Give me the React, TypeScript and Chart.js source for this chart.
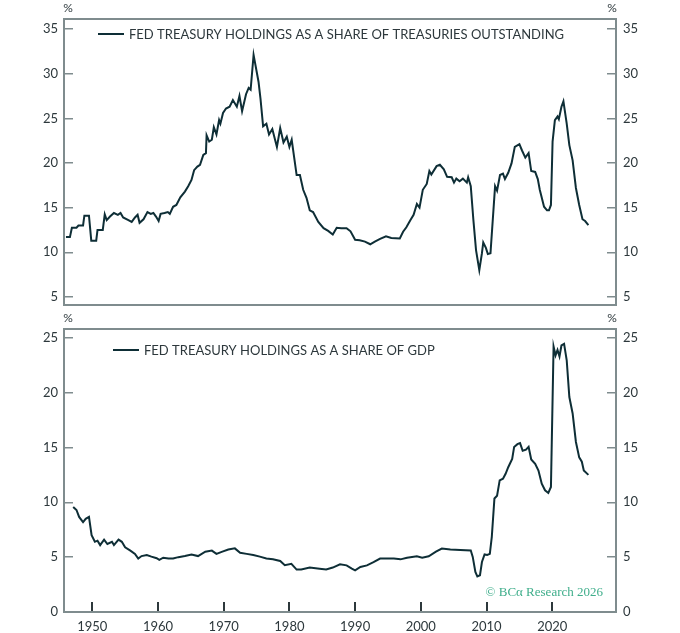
import { useEffect, useRef } from "react";
import { Chart, registerables } from "chart.js";

Chart.register(...registerables);

// Fed holdings as % of treasuries outstanding
const shareYears = [
  1946.0, 1946.6, 1946.9, 1947.6, 1947.9, 1948.6, 1948.8, 1949.5, 1949.85, 1950.6,
  1950.8, 1951.6, 1951.9, 1952.2, 1952.7, 1953.3, 1953.9, 1954.3, 1954.7, 1955.5,
  1956.0, 1956.5, 1956.9, 1957.2, 1957.8, 1958.4, 1958.9, 1959.3, 1959.7, 1960.1,
  1960.4, 1961.0, 1961.5, 1961.8, 1962.3, 1962.8, 1963.4, 1964.1, 1964.6, 1965.1,
  1965.5, 1966.0, 1966.4, 1966.9, 1967.3, 1967.4, 1967.8, 1968.2, 1968.5, 1968.9,
  1969.3, 1969.5, 1969.9, 1970.35, 1970.9, 1971.4, 1972.0, 1972.4, 1972.8, 1973.4,
  1973.8, 1974.1, 1974.55, 1975.3, 1975.6, 1976.0, 1976.5, 1976.9, 1977.4, 1978.1,
  1978.6, 1979.1, 1979.6, 1980.0, 1980.35, 1981.1, 1981.6, 1982.1, 1982.6, 1983.1,
  1983.6, 1984.4, 1985.2, 1985.9, 1986.6, 1987.2, 1987.9, 1988.7, 1989.3, 1990.0,
  1990.7, 1991.5, 1992.3, 1993.0, 1993.8, 1994.7, 1995.5, 1996.8, 1997.3, 1997.8,
  1998.4, 1998.9, 1999.4, 1999.8, 2000.3, 2000.9, 2001.3, 2001.6, 2002.4, 2002.9,
  2003.5, 2004.0, 2004.7, 2005.05, 2005.4, 2005.9, 2006.4, 2007.0, 2007.2, 2007.6,
  2008.0, 2008.4, 2008.9, 2009.3, 2009.5, 2009.9, 2010.2, 2010.6, 2011.3, 2011.6,
  2012.05, 2012.5, 2012.8, 2013.3, 2013.8, 2014.3, 2015.0, 2015.4, 2015.9, 2016.4,
  2016.8, 2017.4, 2017.8, 2018.1, 2018.75, 2019.2, 2019.5, 2019.8, 2020.05, 2020.4,
  2020.8, 2021.0, 2021.4, 2021.7, 2022.2, 2022.6, 2023.1, 2023.6, 2024.1, 2024.6,
  2025.0, 2025.5,
];
const shareValues = [
  11.7, 11.7, 12.75, 12.75, 13.0, 13.0, 14.1, 14.1, 11.3, 11.3,
  12.5, 12.5, 14.25, 13.6, 14.0, 14.4, 14.2, 14.4, 13.9, 13.6,
  13.4, 13.9, 14.2, 13.3, 13.7, 14.5, 14.3, 14.4, 14.0, 13.5,
  14.3, 14.4, 14.5, 14.3, 15.1, 15.3, 16.15, 16.8, 17.4, 18.1,
  19.2, 19.6, 19.8, 20.9, 21.1, 23.1, 22.4, 22.6, 24.0, 23.2,
  24.8, 24.4, 25.6, 26.1, 26.3, 27.05, 26.3, 27.5, 25.8, 27.7,
  28.4, 28.2, 32.1, 29.1, 27.2, 24.1, 24.4, 23.2, 23.8, 21.8,
  23.9, 22.3, 22.95, 21.8, 22.6, 18.65, 18.65, 17.0, 16.1, 14.7,
  14.5, 13.4, 12.7, 12.4, 12.0, 12.75, 12.7, 12.7, 12.35, 11.4,
  11.35, 11.2, 10.9, 11.2, 11.5, 11.8, 11.6, 11.55, 12.3, 12.8,
  13.6, 14.2, 15.4, 15.0, 17.0, 17.65, 19.1, 18.7, 19.65, 19.8,
  19.3, 18.45, 18.4, 17.8, 18.25, 17.95, 18.25, 17.8, 18.4, 17.4,
  13.6, 10.25, 8.0, 9.9, 11.1, 10.5, 9.8, 9.9, 17.4, 16.9,
  18.65, 18.8, 18.2, 18.9, 19.95, 21.8, 22.1, 21.4, 20.6, 21.1,
  19.1, 19.0, 18.2, 17.0, 15.1, 14.7, 14.7, 15.3, 22.4, 24.8,
  25.2, 24.9, 26.3, 26.9, 24.4, 22.0, 20.3, 17.2, 15.3, 13.7,
  13.5, 13.05,
];

// Fed holdings as % of GDP
const gdpYears = [
  1947.1, 1947.6, 1948.0, 1948.6, 1949.0, 1949.5, 1949.9, 1950.4, 1950.8, 1951.2,
  1951.8, 1952.3, 1953.0, 1953.3, 1954.0, 1954.5, 1955.0, 1955.8, 1956.5, 1957.0,
  1957.5, 1958.3, 1959.0, 1959.8, 1960.2, 1960.8, 1961.6, 1962.3, 1963.1, 1964.1,
  1965.1, 1966.1, 1967.2, 1968.2, 1968.9, 1969.8, 1970.7, 1971.7, 1972.5, 1973.5,
  1974.5, 1975.5, 1976.5, 1977.5, 1978.6, 1979.3, 1980.3, 1981.1, 1981.8, 1983.1,
  1984.6, 1985.6, 1986.6, 1987.7, 1988.7, 1989.5, 1990.0, 1990.8, 1991.8, 1992.8,
  1993.8, 1994.9, 1995.9, 1996.9, 1997.9, 1999.4, 2000.2, 2001.2, 2002.3, 2003.2,
  2004.5, 2006.0, 2007.6, 2007.9, 2008.3, 2008.6, 2009.0, 2009.3, 2009.7, 2010.1,
  2010.5, 2010.8, 2011.2, 2011.6, 2012.0, 2012.5, 2012.9, 2013.3, 2013.9, 2014.2,
  2014.7, 2015.1, 2015.5, 2016.0, 2016.4, 2016.8, 2017.4, 2017.9, 2018.4, 2018.9,
  2019.4, 2019.8, 2020.2, 2020.5, 2020.8, 2021.1, 2021.4, 2021.8, 2022.2, 2022.6,
  2023.1, 2023.6, 2024.1, 2024.5, 2024.8, 2025.5,
];
const gdpValues = [
  9.58, 9.3, 8.67, 8.2, 8.5, 8.67, 7.0, 6.4, 6.5, 6.1,
  6.6, 6.2, 6.4, 6.1, 6.6, 6.4, 5.9, 5.6, 5.3, 4.87,
  5.1, 5.2, 5.05, 4.9, 4.75, 4.95, 4.87, 4.87, 5.0, 5.1,
  5.25, 5.1, 5.5, 5.6, 5.3, 5.5, 5.7, 5.8, 5.4, 5.3,
  5.2, 5.05, 4.87, 4.8, 4.65, 4.26, 4.4, 3.87, 3.87, 4.05,
  3.95, 3.87, 4.05, 4.35, 4.25, 3.95, 3.8, 4.1, 4.25, 4.55,
  4.87, 4.87, 4.87, 4.8, 4.95, 5.08, 4.95, 5.08, 5.5, 5.78,
  5.7, 5.65, 5.6, 5.02, 3.65, 3.25, 3.35, 4.56, 5.25, 5.2,
  5.3, 6.85, 10.35, 10.6, 12.0, 12.15, 12.6, 13.2, 13.95, 15.05,
  15.3, 15.4, 14.7, 14.8, 15.05, 13.9, 13.5, 12.9, 11.7, 11.1,
  10.85, 11.4, 24.2, 23.4, 23.9, 23.3, 24.3, 24.45, 22.95, 19.6,
  18.1, 15.5, 14.1, 13.7, 12.9, 12.5,
];

const shareTicks = [5, 10, 15, 20, 25, 30, 35];
const gdpTicks = [0, 5, 10, 15, 20, 25];
const decadeTicks = [1950, 1960, 1970, 1980, 1990, 2000, 2010, 2020];

const LINE = "#0e2e36";
const FRAME = "#7f8c8e";
const TEXT = "#2d383c";
const FONT = "Lato, 'Open Sans', sans-serif";

interface PanelProps {
  years: number[];
  values: number[];
  label: string;
  yMin: number;
  yMax: number;
  yTicks: number[];
  showX: boolean;
  height: number;
  legendX: number;
  legendY: number;
  credit?: string;
}

function Panel(props: PanelProps) {
  const canvasRef = useRef<HTMLCanvasElement>(null);
  const chartRef = useRef<Chart | null>(null);

  useEffect(() => {
    if (!canvasRef.current) return;
    if (chartRef.current) chartRef.current.destroy();

    const points = props.years.map((x, i) => ({ x, y: props.values[i] }));

    const yAxis = (position: "left" | "right") => ({
      type: "linear" as const,
      position,
      min: props.yMin,
      max: props.yMax,
      afterBuildTicks: (s: any) => {
        s.ticks = props.yTicks.map((v) => ({ value: v }));
      },
      afterFit: (s: any) => {
        s.width = 64;
        // keep label overhang from pushing the plot area around
        s.paddingTop = 0;
        s.paddingBottom = 0;
      },
      border: { display: false },
      grid: {
        drawOnChartArea: false,
        tickLength: -9,
        color: FRAME,
        lineWidth: 1.5,
      },
      ticks: {
        padding: position === "left" ? 15 : 16,
        color: TEXT,
        font: { family: FONT, size: 13 },
      },
    });

    // frame, legend, % marks and credit
    const decor = {
      id: "decor",
      afterDraw(chart: Chart) {
        const { ctx, chartArea } = chart;
        const { left, right, top, bottom } = chartArea;
        ctx.save();
        ctx.strokeStyle = FRAME;
        ctx.lineWidth = 2;
        ctx.strokeRect(left, top, right - left, bottom - top);

        ctx.fillStyle = TEXT;
        ctx.font = `12px ${FONT}`;
        ctx.textAlign = "center";
        ctx.textBaseline = "middle";
        ctx.fillText("%", left + 4, top - 11);
        ctx.fillText("%", right - 4, top - 11);

        const lx = left + props.legendX;
        const ly = top + props.legendY;
        ctx.strokeStyle = LINE;
        ctx.lineWidth = 2;
        ctx.beginPath();
        ctx.moveTo(lx, ly);
        ctx.lineTo(lx + 26, ly);
        ctx.stroke();
        ctx.fillStyle = TEXT;
        ctx.font = `13px ${FONT}`;
        ctx.textAlign = "left";
        ctx.fillText(props.label, lx + 31, ly + 1);

        if (props.credit) {
          ctx.fillStyle = "#3fae8b";
          ctx.font = "13px 'Liberation Serif', 'DejaVu Serif', serif";
          ctx.textAlign = "right";
          ctx.fillText(props.credit, right - 13, bottom - 19);
        }
        ctx.restore();
      },
    };

    chartRef.current = new Chart(canvasRef.current, {
      type: "line",
      data: {
        datasets: [
          {
            label: props.label,
            data: points,
            borderColor: LINE,
            borderWidth: 2,
            pointRadius: 0,
            tension: 0,
          },
        ],
      },
      options: {
        responsive: false,
        animation: false,
        layout: { padding: { top: 19, bottom: props.showX ? 0 : 5, left: 0, right: 0 } },
        plugins: {
          legend: { display: false },
          tooltip: { enabled: false },
        },
        scales: {
          x: {
            type: "linear",
            display: props.showX,
            min: 1945.7,
            max: 2029.7,
            afterBuildTicks: (s: any) => {
              s.ticks = decadeTicks.map((v) => ({ value: v }));
            },
            afterFit: (s: any) => {
              s.height = props.showX ? 21 : 0;
              s.paddingLeft = 0;
              s.paddingRight = 0;
            },
            border: { display: false },
            grid: {
              drawOnChartArea: false,
              tickLength: -10,
              color: TEXT,
              lineWidth: 2,
            },
            ticks: {
              padding: 17,
              maxRotation: 0,
              color: TEXT,
              font: { family: FONT, size: 13 },
              callback: (v: any) => String(v),
            },
          },
          y: yAxis("left"),
          y2: yAxis("right"),
        },
      },
      plugins: [decor],
    });

    return () => {
      if (chartRef.current) {
        chartRef.current.destroy();
        chartRef.current = null;
      }
    };
  }, []);

  return (
    <canvas
      ref={canvasRef}
      width={680}
      height={props.height}
      style={{ display: "block", width: 680, height: props.height }}
    />
  );
}

export default function App() {
  return (
    <div style={{ position: "absolute", left: 0, top: 0, width: 680, height: 633, background: "#fff" }}>
      <Panel
        years={shareYears}
        values={shareValues}
        label="FED TREASURY HOLDINGS AS A SHARE OF TREASURIES OUTSTANDING"
        yMin={4.1}
        yMax={36.12}
        yTicks={shareTicks}
        showX={false}
        height={310}
        legendX={34}
        legendY={15}
      />
      <Panel
        years={gdpYears}
        values={gdpValues}
        label="FED TREASURY HOLDINGS AS A SHARE OF GDP"
        yMin={0}
        yMax={25.8}
        yTicks={gdpTicks}
        showX={true}
        height={323}
        legendX={49}
        legendY={21}
        credit="© BCα Research 2026"
      />
    </div>
  );
}
